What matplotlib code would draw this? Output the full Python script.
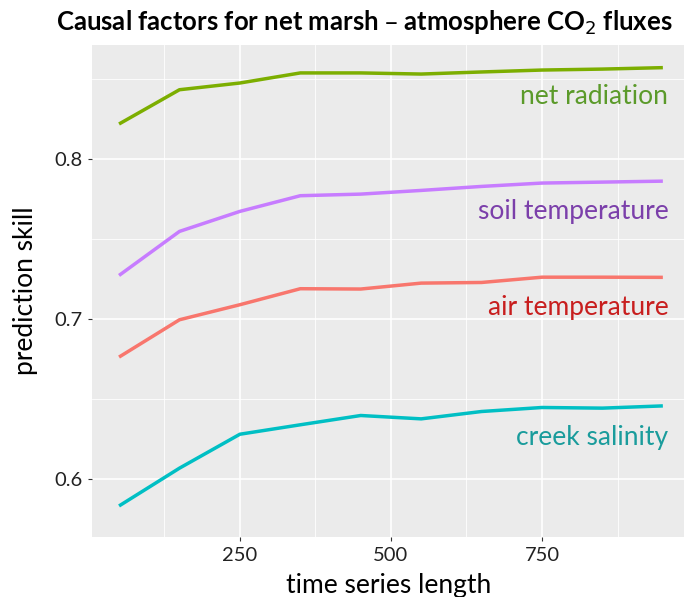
import numpy as np
import matplotlib
matplotlib.use("Agg")
import matplotlib.pyplot as plt
from matplotlib.ticker import MultipleLocator

plt.rcParams['font.family'] = ['Lato', 'DejaVu Sans']

# series length on the x axis
length = [50, 150, 250, 350, 450, 550, 650, 750, 850, 950]

# prediction skill
net_radiation = [0.8217, 0.8431, 0.8473, 0.8536, 0.8536, 0.8529, 0.8542, 0.8554, 0.8560, 0.8569]
soil_temperature = [0.7271, 0.7546, 0.7671, 0.7769, 0.7779, 0.7802, 0.7827, 0.7848, 0.7854, 0.7860]
air_temperature = [0.6761, 0.6994, 0.7088, 0.7188, 0.7186, 0.7223, 0.7227, 0.7260, 0.7260, 0.7259]
creek_salinity = [0.5831, 0.6067, 0.6279, 0.6338, 0.6396, 0.6375, 0.6421, 0.6446, 0.6442, 0.6456]

names = ['net radiation', 'soil temperature', 'air temperature', 'creek salinity']
series = [net_radiation, soil_temperature, air_temperature, creek_salinity]
line_colors = ['#7CAE00', '#C77CFF', '#F8766D', '#00BFC4']
text_colors = ['#5B9A2A', '#7B3FAA', '#C81E1E', '#1A9C9C']
label_y = [0.839, 0.767, 0.707, 0.626]

fig = plt.figure(figsize=(6.84, 5.97), dpi=100)
ax = fig.add_axes([0.135, 0.1005, 0.865, 0.824])
ax.set_facecolor('#EBEBEB')

for vals, c in zip(series, line_colors):
    ax.plot(length, vals, color=c, lw=2.5, solid_capstyle='butt', zorder=3)

for name, c, y in zip(names, text_colors, label_y):
    ax.text(959, y, name, color=c, fontsize=19, ha='right', va='center', zorder=4)

ax.set_xlim(5.8, 985)
ax.set_ylim(0.5637, 0.871)
ax.xaxis.set_major_locator(MultipleLocator(250))
ax.xaxis.set_minor_locator(MultipleLocator(250, offset=125))
ax.yaxis.set_major_locator(MultipleLocator(0.1))
ax.yaxis.set_minor_locator(MultipleLocator(0.05))
ax.set_xticks([250, 500, 750])
ax.set_yticks([0.6, 0.7, 0.8])
ax.set_yticklabels(['0.6', '0.7', '0.8'])

ax.grid(which='major', color='white', lw=1.2, zorder=0)
ax.grid(which='minor', color='white', lw=0.6, zorder=0)
ax.set_axisbelow(True)
for s in ax.spines.values():
    s.set_visible(False)
ax.tick_params(which='major', length=3, width=0.8, color='#333333', labelsize=14.5, labelcolor='#222222', pad=4)
ax.tick_params(which='minor', length=0)

ax.set_xlabel('time series length', fontsize=19, labelpad=7)
ax.set_ylabel('prediction skill', fontsize=19, labelpad=12)

fig.text(0.532, 0.962, 'Causal factors for net marsh \u2013 atmosphere CO$_2$ fluxes',
         fontsize=18.5, fontweight='bold', ha='center', va='center')

fig.savefig('out.png', dpi=100)
